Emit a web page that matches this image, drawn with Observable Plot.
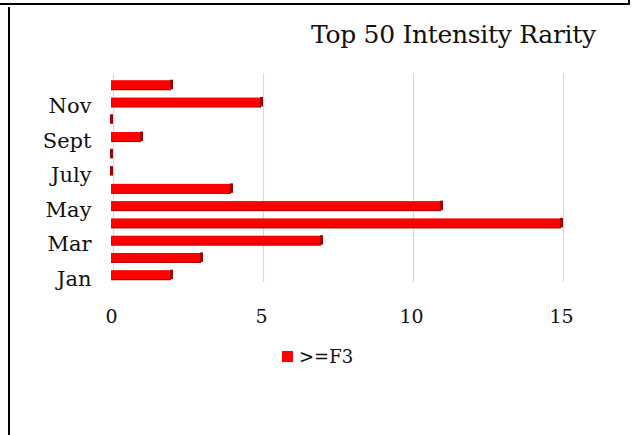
<!DOCTYPE html>
<html>
<head>
<meta charset="utf-8">
<script src="https://cdn.jsdelivr.net/npm/d3@7"></script>
<script src="https://cdn.jsdelivr.net/npm/@observablehq/plot@0.6"></script>
<style>
  html, body { margin: 0; padding: 0; background: #fff; }
  #wrap { position: relative; width: 634px; height: 435px; overflow: hidden; font-family: "DejaVu Serif", serif; }
  #chart { position: absolute; left: 0; top: 0; }
  .edge { position: absolute; background: #000; }
  #title { position: absolute; left: 311px; top: 20px; font-size: 25px; color: #111; white-space: nowrap; letter-spacing: -0.3px; }
  #legend { position: absolute; left: 282px; top: 346px; font-size: 18px; color: #111; display: flex; align-items: center; white-space: nowrap; }
  #legend .sw { width: 11px; height: 11px; background: #ff0000; margin-right: 6px; }
</style>
</head>
<body>
<div id="wrap">
  <div class="edge" style="left:0;top:3px;width:630px;height:2px"></div>
  <div class="edge" style="left:628px;top:0;width:2px;height:5px"></div>
  <div class="edge" style="left:8px;top:7px;width:2px;height:428px"></div>
  <div id="chart"></div>
  <div id="title">Top 50 Intensity Rarity</div>
  <div id="legend"><span class="sw"></span><span id="series-name"></span></div>
</div>
<script>
// Monthly counts of top-50 intensity events rated F3 or stronger
const months = ["Jan", "Feb", "Mar", "Apr", "May", "June", "July", "Aug", "Sept", "Oct", "Nov", "Dec"];
const counts = [2, 3, 7, 15, 11, 4, 0, 0, 1, 0, 5, 2];
const monthTicks = ["Jan", "Mar", "May", "July", "Sept", "Nov"];
const valueTicks = [0, 5, 10, 15];
const seriesName = ">=F3";

const data = months.map((m, i) => ({month: m, count: counts[i]}));

document.getElementById("series-name").textContent = seriesName;

const chart = Plot.plot({
  width: 634,
  height: 340,
  marginLeft: 111,
  marginRight: 73,
  marginTop: 72,
  marginBottom: 53,
  style: {fontFamily: "DejaVu Serif, serif", background: "transparent"},
  x: {domain: [0, 15], ticks: valueTicks, label: null},
  y: {domain: months.slice().reverse(), padding: 0.45, round: false, label: null},
  marks: [
    // back-wall gridlines, shifted for the 3D depth
    Plot.ruleX(valueTicks, {stroke: "#d9d9d9", strokeWidth: 1.2, dx: 2, insetTop: 1, insetBottom: 5}),
    // shaded underside of each bar
    Plot.barX(data, {y: "month", x: "count", fill: "#a80000", dy: 1}),
    // front face
    Plot.barX(data, {y: "month", x: "count", fill: "#ff0000", insetTop: 0.5}),
    // dark end face
    Plot.barX(data, {y: "month", x1: "count", x2: "count", fill: "#a00000", insetLeft: -1, insetRight: -2}),
    Plot.axisY({ticks: monthTicks, tickSize: 0, tickPadding: 20, fontSize: 21, fill: "#111", dy: 4, label: null}),
    Plot.axisX({ticks: valueTicks, tickSize: 0, tickPadding: 22, fontSize: 19, fill: "#111", label: null})
  ]
});
document.getElementById("chart").appendChild(chart);
</script>
</body>
</html>
